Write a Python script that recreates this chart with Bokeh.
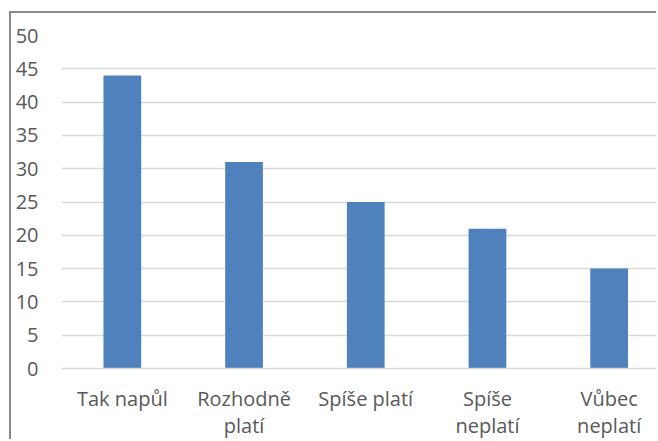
from bokeh.plotting import figure
from bokeh.models import Range1d, FixedTicker, ColumnDataSource
from bokeh.embed import file_html
from bokeh.resources import INLINE

categories = ["Tak napůl", "Rozhodně platí", "Spíše platí", "Spíše neplatí", "Vůbec neplatí"]
tick_labels = ["Tak napůl", "Rozhodně\nplatí", "Spíše platí", "Spíše\nneplatí", "Vůbec\nneplatí"]
values = [44, 31, 25, 21, 15]
y_ticks = [0, 5, 10, 15, 20, 25, 30, 35, 40, 45, 50]

xs = list(range(len(categories)))
src = ColumnDataSource(dict(x=xs, top=values, cat=categories))

FONT = "Open Sans"

p = figure(width=647, height=428, output_backend="svg", toolbar_location=None,
           x_range=Range1d(-0.5, -0.5 + 597 / 121.7), y_range=Range1d(0, 50),
           min_border_left=50, min_border_right=0, min_border_top=22, min_border_bottom=70)
p.styles = {"border-left": "2px solid #8a8a8a", "border-top": "2px solid #8a8a8a",
            "margin-left": "9px", "margin-top": "11px"}

p.vbar(x="x", top="top", bottom=0, width=0.31, source=src, fill_color="#4f81bd", line_color=None)

p.outline_line_color = None
p.background_fill_color = "white"
p.border_fill_color = "white"

p.xgrid.grid_line_color = None
p.ygrid.grid_line_color = "#d9d9d9"
p.ygrid.grid_line_width = 1.5
p.ygrid.ticker = FixedTicker(ticks=y_ticks)

p.yaxis.ticker = FixedTicker(ticks=y_ticks)
p.yaxis.axis_line_color = None
p.yaxis.major_tick_line_color = None
p.yaxis.major_tick_out = 0
p.yaxis.major_tick_in = 0
p.yaxis.minor_tick_line_color = None
p.yaxis.minor_tick_out = 0
p.yaxis.major_label_standoff = 23
p.yaxis.major_label_text_font = FONT
p.yaxis.major_label_text_font_size = "20px"
p.yaxis.major_label_text_color = "#595959"

p.xaxis.ticker = FixedTicker(ticks=xs)
p.xaxis.major_label_overrides = {i: t for i, t in zip(xs, tick_labels)}
p.xaxis.axis_line_color = "#d9d9d9"
p.xaxis.axis_line_width = 1.5
p.xaxis.major_tick_line_color = None
p.xaxis.major_tick_out = 0
p.xaxis.major_tick_in = 0
p.xaxis.minor_tick_line_color = None
p.xaxis.minor_tick_out = 0
p.xaxis.major_label_standoff = 16
p.xaxis.major_label_text_font = FONT
p.xaxis.major_label_text_font_size = "20px"
p.xaxis.major_label_text_color = "#595959"
p.xaxis.major_label_text_line_height = 1.0

open("out.html", "w").write(file_html(p, INLINE))
